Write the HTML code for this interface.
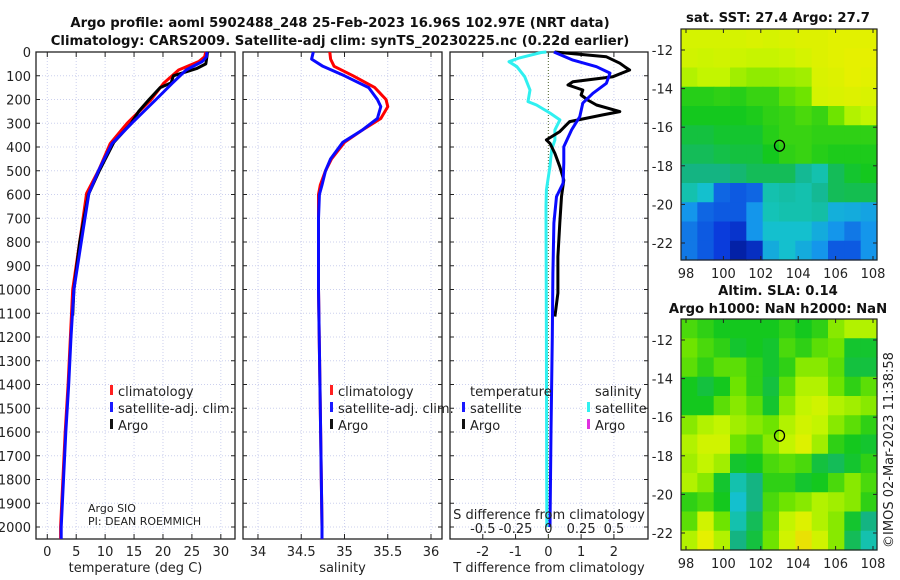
<!DOCTYPE html>
<html><head><meta charset="utf-8">
<style>
body{margin:0;background:#fff;}
svg{display:block;font-family:"DejaVu Sans","Liberation Sans",sans-serif;}
.t{font-size:13px;fill:#222;}
.b{font-size:13.2px;font-weight:bold;fill:#111;}
</style></head>
<body>
<svg id="s" width="900" height="580" viewBox="0 0 900 580">
<g id="titles">
<text class="b" x="340" y="27" text-anchor="middle">Argo profile: aoml 5902488_248 25-Feb-2023 16.96S 102.97E (NRT data)</text>
<text class="b" x="340" y="45" text-anchor="middle">Climatology: CARS2009. Satellite-adj clim: synTS_20230225.nc (0.22d earlier)</text>
<text class="b" x="778" y="22" text-anchor="middle">sat. SST: 27.4 Argo: 27.7</text>
<text class="b" x="778" y="295" text-anchor="middle">Altim. SLA: 0.14</text>
<text class="b" x="778" y="313" text-anchor="middle">Argo h1000: NaN h2000: NaN</text>
<text class="t" x="0" y="0" transform="translate(893,450) rotate(-90)" text-anchor="middle">©IMOS 02-Mar-2023 11:38:58</text>
</g>
</svg>
<script>
// ---- data ----
const tDepth = [0,20,40,76,132,202,300,385,497,595,750,1000,1200,1400,1600,1800,2000,2050];
const tClim  = [27.4,27.2,26.2,22.7,20.1,17.9,13.8,10.9,8.9,6.8,5.9,4.4,4.0,3.6,3.1,2.7,2.3,2.3];
const tSat   = [27.6,27.5,26.8,24.0,21.6,18.7,14.6,11.2,8.9,7.2,6.2,4.6,4.1,3.7,3.2,2.8,2.4,2.4];
const argoDepth = [0,20,50,70,100,130,150,200,250,300,380,500,600,800,1000,1110];
const tArgo = [27.7,27.6,27.4,25.8,21.8,21.4,19.5,17.6,15.8,14.5,11.5,9.0,7.1,5.6,4.6,4.4];
const sDepth = [0,30,60,100,150,200,230,280,330,380,450,500,560,600,700,1000,1500,2000,2050];
const sClim  = [34.83,34.84,34.88,35.1,35.35,35.48,35.5,35.42,35.2,35.0,34.85,34.78,34.72,34.70,34.70,34.70,34.72,34.74,34.74];
const sSat   = [34.64,34.62,34.75,35.0,35.28,35.38,35.42,35.38,35.2,34.98,34.84,34.78,34.74,34.71,34.70,34.70,34.72,34.74,34.74];
const dDepth = [0,34,62,89,132,174,215,272,328,399,467,552,609,720,931,1200,1600,2000];
const dTSat  = [0.17,0.75,1.47,1.88,1.77,1.36,1.05,0.96,0.71,0.47,0.47,0.45,0.25,0.17,0.14,0.12,0.08,0.05];
const argoDiffDepth = [0,20,47,62,76,104,125,139,160,181,202,223,251,265,293,314,335,370,385,427,483,539,609,720,862,1015,1114];
const dTArgo = [0.2,1.77,2.18,2.33,2.48,1.97,0.75,0.6,1.05,1.0,1.2,1.47,2.18,1.66,0.65,0.5,0.35,-0.06,0.05,0.2,0.35,0.47,0.4,0.35,0.29,0.29,0.2];
const sDiffDepth = [0,2,25,41,62,104,160,209,223,257,286,328,370,413,483,581,651,1212,2000];
const dSSat = [-0.015,-0.055,-0.22,-0.3,-0.24,-0.18,-0.14,-0.155,-0.09,0.012,0.088,0.05,0.05,0.025,0.012,-0.015,-0.018,-0.015,-0.012];
const depthTicks = [0,100,200,300,400,500,600,700,800,900,1000,1100,1200,1300,1400,1500,1600,1700,1800,1900,2000];
const tTicks = [0,5,10,15,20,25,30];
const sTicks = [34,34.5,35,35.5,36];
const sTickLabels = ["34","34.5","35","35.5","36"];
const dTicks = [-2,-1,0,1,2];
const dsTicks = [-0.5,-0.25,0,0.25,0.5];
const dsTickLabels = ["-0.5","-0.25","0","0.25","0.5"];
const lonTicks = [98,100,102,104,106,108];
const latTicks = [-12,-14,-16,-18,-20,-22];
const argoLon = 103, argoLat = -16.96;
const sstGrid = [
[0.86,0.86,0.86,0.86,0.87,0.86,0.87,0.88,0.88,0.89,0.89,0.89],
[0.85,0.84,0.85,0.84,0.83,0.83,0.84,0.86,0.88,0.89,0.90,0.90],
[0.80,0.82,0.82,0.78,0.76,0.76,0.77,0.78,0.87,0.88,0.90,0.89],
[0.64,0.64,0.65,0.64,0.66,0.66,0.70,0.72,0.86,0.87,0.88,0.87],
[0.62,0.62,0.62,0.62,0.63,0.65,0.66,0.68,0.66,0.72,0.80,0.82],
[0.58,0.58,0.60,0.60,0.60,0.64,0.66,0.66,0.65,0.65,0.65,0.65],
[0.55,0.55,0.57,0.58,0.58,0.62,0.65,0.66,0.64,0.63,0.63,0.63],
[0.50,0.50,0.50,0.52,0.55,0.55,0.55,0.48,0.45,0.55,0.60,0.62],
[0.45,0.40,0.22,0.20,0.22,0.45,0.46,0.45,0.48,0.55,0.56,0.56],
[0.30,0.22,0.20,0.20,0.30,0.44,0.45,0.45,0.46,0.36,0.35,0.33],
[0.25,0.20,0.15,0.12,0.30,0.40,0.40,0.40,0.35,0.30,0.25,0.30],
[0.25,0.20,0.15,0.05,0.10,0.35,0.40,0.35,0.30,0.20,0.20,0.30]];
const slaGrid = [
[0.68,0.65,0.62,0.62,0.62,0.62,0.65,0.62,0.65,0.75,0.80,0.80],
[0.72,0.68,0.65,0.60,0.62,0.60,0.68,0.65,0.70,0.72,0.60,0.60],
[0.70,0.65,0.70,0.70,0.65,0.60,0.65,0.75,0.75,0.70,0.58,0.58],
[0.62,0.58,0.62,0.72,0.65,0.58,0.70,0.80,0.80,0.72,0.65,0.70],
[0.62,0.62,0.70,0.75,0.70,0.60,0.75,0.82,0.85,0.80,0.78,0.75],
[0.75,0.80,0.82,0.78,0.75,0.72,0.80,0.85,0.82,0.75,0.70,0.65],
[0.80,0.85,0.85,0.72,0.68,0.75,0.82,0.88,0.78,0.65,0.62,0.60],
[0.78,0.82,0.78,0.60,0.62,0.68,0.70,0.68,0.58,0.55,0.60,0.65],
[0.80,0.75,0.60,0.45,0.50,0.65,0.65,0.60,0.62,0.68,0.75,0.68],
[0.65,0.68,0.62,0.40,0.50,0.68,0.72,0.75,0.80,0.78,0.75,0.65],
[0.70,0.85,0.72,0.45,0.55,0.70,0.82,0.88,0.80,0.75,0.60,0.50],
[0.80,0.90,0.80,0.50,0.58,0.72,0.85,0.92,0.85,0.75,0.55,0.45]];

// ---- drawing ----
const NS='http://www.w3.org/2000/svg';
const svg=document.getElementById('s');
function mk(tag,attrs,parent){const e=document.createElementNS(NS,tag);for(const k in attrs)e.setAttribute(k,attrs[k]);(parent||svg).appendChild(e);return e;}
const Y0=52, PXM=0.2375;
const yD=d=>Y0+d*PXM;
const panels=[
 {x0:36,x1:235,lo:-1.95,hi:32.45,name:'temperature-panel'},
 {x0:243,x1:442,lo:33.827,hi:36.127,name:'salinity-panel'},
 {x0:450,x1:648,lo:-3.0,hi:3.04,name:'difference-panel'}];
panels.forEach(p=>{p.f=v=>p.x0+(v-p.lo)/(p.hi-p.lo)*(p.x1-p.x0);});
const xT=panels[0].f, xS=panels[1].f, xD=panels[2].f, xDS=v=>xD(v*4);
const grid='#ccd0ee';
function panelFrame(p,ticks,labels,title){
 const g=mk('g',{});
 
 
 depthTicks.forEach(d=>{const l=mk('line',{x1:p.x0,x2:p.x1,y1:yD(d),y2:yD(d),stroke:grid,'stroke-width':1,'stroke-dasharray':'1,2'},g);
  
  });
 ticks.forEach((v,i)=>{const x=p.f(v);
  const l=mk('line',{x1:x,x2:x,y1:52,y2:539,stroke:grid,'stroke-width':1,'stroke-dasharray':'1,2'},g);
  
  
  mk('line',{x1:x,x2:x,y1:52,y2:57,stroke:'#222'},g);mk('line',{x1:x,x2:x,y1:539,y2:534,stroke:'#222'},g);
  const t=mk('text',{x:x,y:556,'text-anchor':'middle',class:'t'},g);t.textContent=labels[i];
  
  });
 depthTicks.forEach(d=>{mk('line',{x1:p.x0,x2:p.x0+4,y1:yD(d),y2:yD(d),stroke:'#222'},g);mk('line',{x1:p.x1,x2:p.x1-4,y1:yD(d),y2:yD(d),stroke:'#222'},g);});
 const r=mk('rect',{x:p.x0,y:52,width:p.x1-p.x0,height:487,fill:'none',stroke:'#222','stroke-width':1.3},g);
 
 
 const t=mk('text',{x:(p.x0+p.x1)/2,y:572,'text-anchor':'middle',class:'t'},g);t.textContent=title;
 
 
 return g;}
const g1=panelFrame(panels[0],tTicks,tTicks.map(String),'temperature (deg C)');
const g2=panelFrame(panels[1],sTicks,sTickLabels,'salinity');
const g3=panelFrame(panels[2],dTicks,dTicks.map(String),'T difference from climatology');
depthTicks.forEach(d=>{const t=mk('text',{x:31,y:yD(d)+5,'text-anchor':'end',class:'t'});t.textContent=String(d);
 
 });
function series(g,vals,depths,fx,color,name,w){
 const pts=vals.map((v,i)=>fx(v).toFixed(1)+','+yD(depths[i]).toFixed(1)).join(' ');
 const l=mk('polyline',{points:pts,fill:'none',stroke:color,'stroke-width':w||3,'stroke-linejoin':'round'},g);
 
 }
series(g1,tClim,tDepth,xT,'#ff0000','temperature-climatology-line');
series(g1,tArgo,argoDepth,xT,'#000000','temperature-argo-line');
series(g1,tSat,tDepth,xT,'#0a0aff','temperature-satellite-line');
series(g2,sClim,sDepth,xS,'#ff0000','salinity-climatology-line');
series(g2,sSat,sDepth,xS,'#0a0aff','salinity-satellite-line');
const z=mk('line',{x1:xD(0),x2:xD(0),y1:52,y2:539,stroke:'#556b2f','stroke-dasharray':'1,2'},g3);


series(g3,dSSat,sDiffDepth,xDS,'#30f0f0','salinity-satellite-diff-line');
series(g3,dTArgo,argoDiffDepth,xD,'#000000','temperature-argo-diff-line');
series(g3,dTSat,dDepth,xD,'#0a0aff','temperature-satellite-diff-line');
dsTicks.forEach((v,i)=>{const t=mk('text',{x:xDS(v),y:533,'text-anchor':'middle',class:'t'},g3);t.textContent=dsTickLabels[i];
 
 });
{const t=mk('text',{x:549,y:519,'text-anchor':'middle',class:'t'},g3);t.textContent='S difference from climatology';
 
 }
function legItem(g,x,y,color,label,bar){
 const it=mk('g',{},g);
 
 
 if(bar)mk('rect',{x:x-8,y:y-11,width:3,height:10,fill:color},it);
 const t=mk('text',{x:x,y:y,class:'t'},it);t.textContent=label;}
legItem(g1,118,396,'#ff2020','climatology',1);legItem(g1,118,413,'#1a1aff','satellite-adj. clim.',1);legItem(g1,118,430,'#111','Argo',1);
legItem(g2,338,396,'#ff2020','climatology',1);legItem(g2,338,413,'#1a1aff','satellite-adj. clim.',1);legItem(g2,338,430,'#111','Argo',1);
legItem(g3,470,396,'','temperature',0);legItem(g3,470,413,'#1a1aff','satellite',1);legItem(g3,470,430,'#111','Argo',1);
legItem(g3,595,396,'','salinity',0);legItem(g3,595,413,'#30f0f0','satellite',1);legItem(g3,595,430,'#e030e0','Argo',1);
{const t=mk('text',{x:88,y:512,class:'t'},g1);t.textContent='Argo SIO';t.setAttribute('style','font-size:11px');
 
 
 const t2=mk('text',{x:88,y:525,class:'t'},g1);t2.textContent='PI: DEAN ROEMMICH';t2.setAttribute('style','font-size:11px');
 
 }
const cstops=[[0,[0,20,140]],[0.15,[10,60,220]],[0.3,[20,150,235]],[0.42,[20,200,200]],[0.5,[20,180,130]],[0.62,[20,200,30]],[0.72,[110,228,0]],[0.82,[195,245,0]],[0.9,[230,240,0]],[1,[245,165,20]]];
function cmap(v){for(let i=1;i<cstops.length;i++){if(v<=cstops[i][0]){const a=cstops[i-1],b=cstops[i],t=(v-a[0])/(b[0]-a[0]);
 return 'rgb('+a[1].map((c,k)=>Math.round(c+(b[1][k]-c)*t)).join(',')+')';}}return 'rgb(245,165,20)';}
function mapPanel(gridV,y0,y1,name){
 const x0=681,x1=877;
 const lonF=v=>686+(v-98)*(873-686)/10;
 const latTop=y0+21, latBot=y1-17;
 const latF=v=>latTop+(-12-v)*(latBot-latTop)/10;
 const g=mk('g',{});
 
 
 const nr=gridV.length,nc=gridV[0].length,cw=(x1-x0)/nc,ch=(y1-y0)/nr;
 gridV.forEach((row,r)=>row.forEach((v,c)=>{const e=mk('rect',{x:(x0+c*cw).toFixed(2),y:(y0+r*ch).toFixed(2),width:(cw+0.6).toFixed(2),height:(ch+0.6).toFixed(2),fill:cmap(v)},g);
  
  }));
 mk('rect',{x:x0,y:y0,width:x1-x0,height:y1-y0,fill:'none',stroke:'#222','stroke-width':1.2},g);
 lonTicks.forEach(v=>{const x=lonF(v);mk('line',{x1:x,x2:x,y1:y1,y2:y1-4,stroke:'#222'},g);mk('line',{x1:x,x2:x,y1:y0,y2:y0+4,stroke:'#222'},g);
  const t=mk('text',{x:x,y:y1+18,'text-anchor':'middle',class:'t'},g);t.textContent=String(v);
  
  });
 latTicks.forEach(v=>{const y=latF(v);mk('line',{x1:x0,x2:x0+4,y1:y,y2:y,stroke:'#222'},g);mk('line',{x1:x1,x2:x1-4,y1:y,y2:y,stroke:'#222'},g);
  const t=mk('text',{x:673,y:y+5,'text-anchor':'end',class:'t'},g);t.textContent=String(v);
  
  });
 const c=mk('ellipse',{cx:lonF(argoLon),cy:latF(argoLat),rx:5,ry:5.5,fill:'none',stroke:'#000','stroke-width':1.3},g);
 
 }
mapPanel(sstGrid,29,260,'sst-map');
mapPanel(slaGrid,319,550,'sla-map');
</script>
</body></html>
